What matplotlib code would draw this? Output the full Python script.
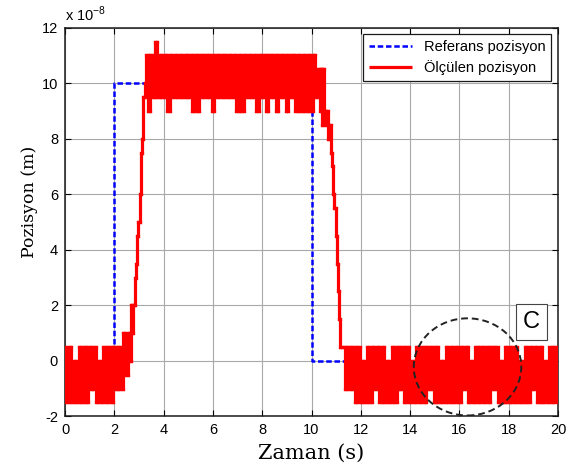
import numpy as np
import matplotlib
matplotlib.use("Agg")
import matplotlib.pyplot as plt
from matplotlib.patches import Ellipse
from matplotlib.collections import LineCollection

plt.rcParams['font.family'] = ['Liberation Sans', 'DejaVu Sans']
plt.rcParams['axes.unicode_minus'] = False

# reference step (x 1e-8 m)
ref_t = [0, 2, 2, 10, 10, 20]
ref_y = [0, 0, 10, 10, 0, 0]

low1_t = np.round(np.arange(0.0, 2.61, 0.1), 2)
low1_y = [0.5, -1.5, 0.5, -1.5, 0.0, -1.5, 0.5, -1.5, 0.5, -1.5,
          0.5, -1.0, 0.5, -1.5, 0.0, -1.5, 0.5, -1.5, 0.5, -1.5,
          0.5, -1.0, 0.5, -1.0, 1.0, -0.5, 1.0]

rise_t = [2.65, 2.7, 2.75, 2.8, 2.85, 2.9, 2.95, 3.0, 3.05, 3.1, 3.15, 3.2, 3.25]
rise_y = [0.0, 2.0, 1.0, 2.0, 3.0, 3.5, 4.5, 5.0, 6.0, 7.5, 8.0, 9.5, 10.0]

high_t = np.round(np.arange(3.3, 10.21, 0.1), 2)
high_y = [11.0, 9.0, 11.0, 9.5, 11.5, 9.5, 11.0, 9.5, 11.0, 9.0,
          11.0, 9.5, 11.0, 9.5, 11.0, 9.5, 11.0, 9.5, 11.0, 9.0,
          11.0, 9.0, 11.0, 9.5, 11.0, 9.5, 11.0, 9.0, 11.0, 9.5,
          11.0, 9.5, 11.0, 9.5, 11.0, 9.5, 11.0, 9.0, 11.0, 9.0,
          11.0, 9.5, 11.0, 9.5, 11.0, 9.0, 11.0, 9.5, 11.0, 9.0,
          11.0, 9.5, 11.0, 9.0, 11.0, 9.5, 11.0, 9.0, 11.0, 9.5,
          11.0, 9.0, 11.0, 9.0, 11.0, 9.0, 11.0, 9.0, 11.0, 9.5]

fall_t = [10.3, 10.35, 10.4, 10.45, 10.5, 10.55, 10.6, 10.65, 10.7, 10.75,
          10.8, 10.85, 10.9, 10.95, 11.0, 11.05, 11.1, 11.15, 11.2]
fall_y = [10.5, 9.0, 10.5, 8.5, 10.5, 9.0, 8.5, 9.0, 8.0, 8.5,
          7.5, 7.0, 6.0, 5.5, 4.5, 3.5, 2.5, 1.5, 0.5]

low2_t = np.round(np.arange(11.3, 20.01, 0.1), 2)
low2_y = [0.5, -1.0, 0.5, -1.0, 0.5, -1.5, 0.5, -1.5, 0.0, -1.5,
          0.5, -1.5, 0.5, -1.0, 0.5, -1.5, 0.5, -1.5, 0.0, -1.5,
          0.5, -1.5, 0.5, -1.0, 0.5, -1.5, 0.5, -1.5, 0.0, -1.5,
          0.5, -1.5, 0.5, -1.5, 0.5, -1.0, 0.5, -1.5, 0.5, -1.5,
          0.0, -1.5, 0.5, -1.5, 0.5, -1.5, 0.5, -1.5, 0.5, -1.0,
          0.5, -1.5, 0.0, -1.5, 0.5, -1.5, 0.5, -1.5, 0.5, -1.5,
          0.5, -1.0, 0.5, -1.5, 0.0, -1.5, 0.5, -1.5, 0.5, -1.5,
          0.5, -1.5, 0.0, -1.5, 0.5, -1.5, 0.5, -1.0, 0.5, -1.5,
          0.5, -1.5, 0.0, -1.5, 0.5, -1.5, 0.5, -1.5]

meas_t = np.concatenate([low1_t, rise_t, high_t, fall_t, low2_t])
meas_y = np.concatenate([low1_y, rise_y, high_y, fall_y, low2_y])

# stair path (steps-mid), cut into single segments so thick overlapping
# strokes do not cancel each other out
segs = []
for i in range(len(meas_t) - 1):
    mid = (meas_t[i] + meas_t[i + 1]) / 2
    segs.append([(meas_t[i], meas_y[i]), (mid, meas_y[i])])
    segs.append([(mid, meas_y[i]), (mid, meas_y[i + 1])])
    segs.append([(mid, meas_y[i + 1]), (meas_t[i + 1], meas_y[i + 1])])

fig = plt.figure(figsize=(5.81, 4.72), dpi=100)
ax = fig.add_axes([0.1119, 0.1180, 0.8485, 0.8233])

ax.plot(ref_t, ref_y, color='#0000ff', lw=1.8, dashes=(2.2, 1.1),
        label='Referans pozisyon', zorder=2)
meas = LineCollection(segs, colors='#ff0000', linewidths=2.3,
                      capstyle='projecting', label='Ölçülen pozisyon', zorder=3)
ax.add_collection(meas)

# circle + "C" marker
ax.add_patch(Ellipse((16.33, -0.22), 4.36, 3.5, fill=False, edgecolor='#222222',
                     lw=1.4, linestyle=(0, (3.5, 2.0)), zorder=4))
ax.text(18.93, 1.40, 'C', fontsize=17, ha='center', va='center', zorder=5,
        bbox=dict(boxstyle='square,pad=0.3', facecolor='white',
                  edgecolor='#444444', lw=0.8))

ax.set_xlim(0, 20)
ax.set_ylim(-2, 12)
ax.set_xticks(np.arange(0, 21, 2))
ax.set_yticks(np.arange(-2, 13, 2))
ax.grid(True, color='#a8a8a8', lw=0.8)
ax.set_axisbelow(True)
ax.tick_params(direction='in', top=True, right=True, length=4, width=0.8,
               labelsize=10.5, pad=5)
for s in ax.spines.values():
    s.set_linewidth(1.1)
    s.set_color('#1a1a1a')

ax.set_xlabel('Zaman (s)', family='DejaVu Serif', fontsize=15)
ax.set_ylabel('Pozisyon (m)', family='DejaVu Serif', fontsize=12.5)
ax.xaxis.set_label_coords(0.5, -0.07)
ax.yaxis.set_label_coords(-0.055, 0.553)

fig.text(0.112, 0.955, 'x 10$^{\\mathregular{-8}}$', fontsize=10.5)

leg = ax.legend(loc='upper right', fontsize=10.5, handlelength=3.0,
                fancybox=False, framealpha=1, edgecolor='#1a1a1a',
                borderaxespad=0.45, borderpad=0.4, labelspacing=0.4)
leg.get_frame().set_linewidth(0.9)

fig.savefig('out.png', dpi=100)
